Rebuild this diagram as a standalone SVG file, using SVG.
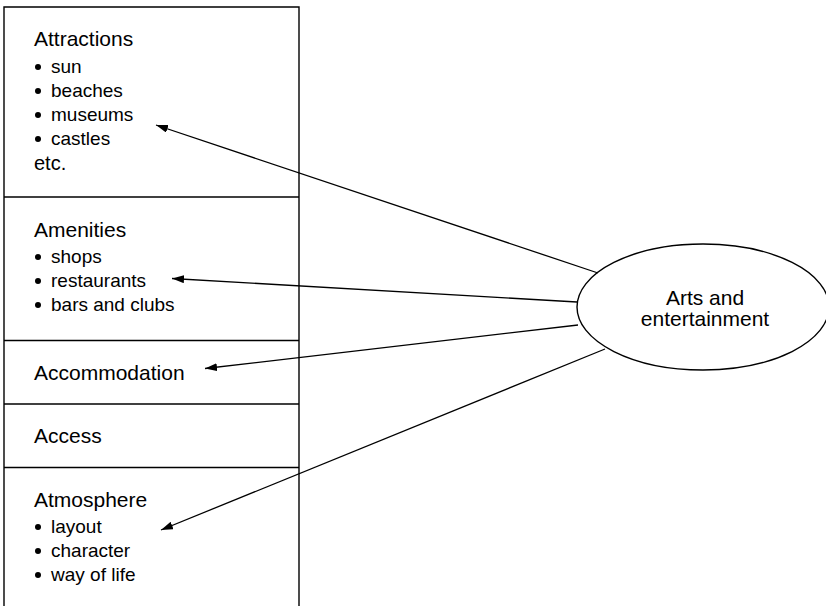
<svg xmlns="http://www.w3.org/2000/svg" width="826" height="606" viewBox="0 0 826 606">
  <defs>
    <marker id="arrow" viewBox="0 0 12 8" refX="12" refY="4" markerWidth="12" markerHeight="8" markerUnits="userSpaceOnUse" orient="auto">
      <path d="M0,0 L12,4 L0,8 Z" fill="#000"/>
    </marker>
    <style>
      .box { fill: none; stroke: #000; stroke-width: 1.4; }
      .head { font-family: "Liberation Sans", Arial, sans-serif; font-size: 21px; fill: #000; }
      .item { font-family: "Liberation Sans", Arial, sans-serif; font-size: 19px; fill: #000; }
      .dot { fill: #000; }
      .link { stroke: #000; stroke-width: 1.3; fill: none; marker-end: url(#arrow); }
    </style>
  </defs>

  <rect width="826" height="606" fill="#fff"/>

  <!-- outer frame of the stacked list (open at the bottom) -->
  <path class="box" d="M4,606 L4,7 L299,7 L299,606"/>

  <g id="attractions">
    <text class="head" x="34" y="46">Attractions</text>
    <circle class="dot" cx="38" cy="67" r="3"/><text class="item" x="51" y="73">sun</text>
    <circle class="dot" cx="38" cy="91" r="3"/><text class="item" x="51" y="97">beaches</text>
    <circle class="dot" cx="38" cy="115" r="3"/><text class="item" x="51" y="121">museums</text>
    <circle class="dot" cx="38" cy="139" r="3"/><text class="item" x="51" y="145">castles</text>
    <text class="head" x="34" y="170" style="font-size:20px">etc.</text>
  </g>

  <g id="amenities">
    <line class="box" x1="4" y1="197" x2="299" y2="197"/>
    <text class="head" x="34" y="237">Amenities</text>
    <circle class="dot" cx="38" cy="257" r="3"/><text class="item" x="51" y="263">shops</text>
    <circle class="dot" cx="38" cy="281" r="3"/><text class="item" x="51" y="287">restaurants</text>
    <circle class="dot" cx="38" cy="305" r="3"/><text class="item" x="51" y="311">bars and clubs</text>
  </g>

  <g id="accommodation">
    <line class="box" x1="4" y1="340.5" x2="299" y2="340.5"/>
    <text class="head" x="34" y="380">Accommodation</text>
  </g>

  <g id="access">
    <line class="box" x1="4" y1="404" x2="299" y2="404"/>
    <text class="head" x="34" y="443">Access</text>
  </g>

  <g id="atmosphere">
    <line class="box" x1="4" y1="467.5" x2="299" y2="467.5"/>
    <text class="head" x="34" y="507">Atmosphere</text>
    <circle class="dot" cx="38" cy="527" r="3"/><text class="item" x="51" y="533">layout</text>
    <circle class="dot" cx="38" cy="551" r="3"/><text class="item" x="51" y="557">character</text>
    <circle class="dot" cx="38" cy="575" r="3"/><text class="item" x="51" y="581">way of life</text>
  </g>

  <g id="arts">
    <ellipse cx="703" cy="307" rx="126" ry="63" fill="#fff" stroke="#000" stroke-width="1.4"/>
    <text class="head" x="705" y="305" text-anchor="middle">Arts and</text>
    <text class="head" x="705" y="326" text-anchor="middle">entertainment</text>
  </g>

  <g id="connectors">
    <line class="link" x1="598" y1="273" x2="156" y2="125"/>
    <line class="link" x1="577" y1="302" x2="172" y2="278.5"/>
    <line class="link" x1="578" y1="325" x2="205" y2="368.5"/>
    <line class="link" x1="605" y1="349" x2="161" y2="530"/>
  </g>
</svg>
